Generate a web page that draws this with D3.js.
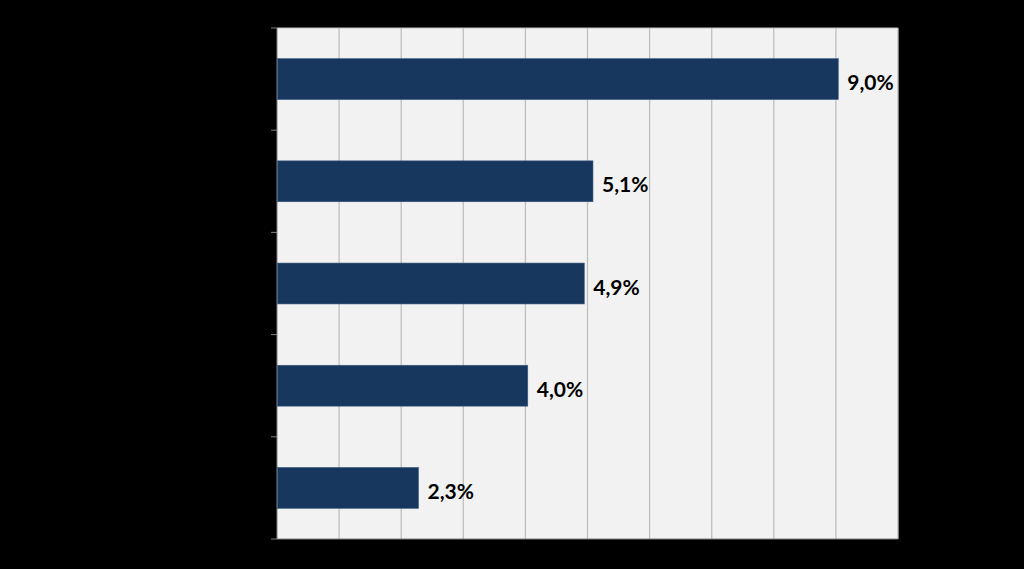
<!DOCTYPE html>
<html><head><meta charset="utf-8">
<script src="https://cdn.jsdelivr.net/npm/d3@7"></script>
<style>html,body{margin:0;padding:0;background:#000;}svg{display:block;}</style>
</head><body>
<svg id="chart" width="1024" height="569"></svg>
<script>
const categories = ["A", "B", "C", "D", "E"];
const values = [9.03, 5.08, 4.94, 4.03, 2.27];
const labels = ["9,0%", "5,1%", "4,9%", "4,0%", "2,3%"];
const xTicks = [0,1,2,3,4,5,6,7,8,9,10];

const svg = d3.select("#chart");
const m = {left: 277, right: 898, top: 28, bottom: 539};
const x = d3.scaleLinear().domain([0, 10]).range([m.left, m.right]);
const y = d3.scaleBand().domain(categories).range([m.top, m.bottom]).paddingInner(0.6).paddingOuter(0.3);
const yb = d3.scaleBand().domain(categories).range([m.top, m.bottom]);

svg.append("rect").attr("x", m.left).attr("y", m.top)
  .attr("width", m.right - m.left).attr("height", m.bottom - m.top).attr("fill", "#f2f2f2");

svg.append("g").selectAll("line").data(xTicks.slice(1)).join("line")
  .attr("x1", d => x(d)).attr("x2", d => x(d))
  .attr("y1", m.top).attr("y2", m.bottom)
  .attr("stroke", "#bfbfbf").attr("stroke-width", 1.3);

svg.append("line").attr("x1", m.left).attr("x2", m.right).attr("y1", m.top).attr("y2", m.top)
  .attr("stroke", "#bfbfbf").attr("stroke-width", 1);
svg.append("line").attr("x1", m.left).attr("x2", m.right).attr("y1", m.bottom).attr("y2", m.bottom)
  .attr("stroke", "#808080").attr("stroke-width", 1);

// left axis with ticks at band boundaries
const bounds = categories.map(c => yb(c)).concat([m.bottom]);
svg.append("line").attr("x1", m.left).attr("x2", m.left).attr("y1", m.top).attr("y2", m.bottom)
  .attr("stroke", "#808080").attr("stroke-width", 1);
svg.append("g").selectAll("line").data(bounds).join("line")
  .attr("x1", m.left - 6).attr("x2", m.left).attr("y1", d => d).attr("y2", d => d)
  .attr("stroke", "#808080").attr("stroke-width", 1);

svg.append("g").selectAll("rect").data(values).join("rect")
  .attr("x", x(0) + 0.5).attr("y", (d, i) => y(categories[i]))
  .attr("width", d => x(d) - x(0)).attr("height", y.bandwidth())
  .attr("fill", "#17375e").attr("stroke", "#3a5a80").attr("stroke-width", 0.6);

svg.append("g").selectAll("text").data(values).join("text")
  .attr("x", d => x(d) + 9.5).attr("y", (d, i) => y(categories[i]) + y.bandwidth() / 2 + 2.5)
  .attr("dominant-baseline", "central")
  .attr("font-family", "Lato, 'Open Sans', sans-serif").attr("font-weight", "bold")
  .attr("font-size", 21).attr("fill", "#000")
  .text((d, i) => labels[i]);
</script>
</body></html>
